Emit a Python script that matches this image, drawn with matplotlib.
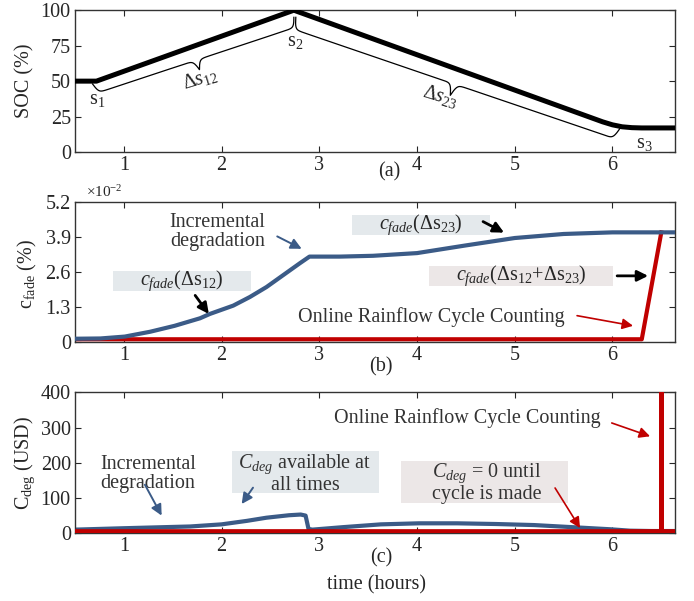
"""Three stacked panels: SOC profile, capacity fade and degradation cost."""

import matplotlib

matplotlib.use("Agg")
import matplotlib.pyplot as plt
import numpy as np
from matplotlib.patches import Rectangle

plt.rcParams["font.family"] = ["Liberation Serif", "DejaVu Serif"]
plt.rcParams["mathtext.fontset"] = "custom"
plt.rcParams["mathtext.rm"] = "Liberation Serif"
plt.rcParams["mathtext.it"] = "Liberation Serif:italic"
plt.rcParams["mathtext.bf"] = "Liberation Serif:bold"

# ---- data ----
soc_time = [0.5, 0.72, 2.74, 5.9, 6.0, 6.1, 6.2, 6.3, 6.64]
soc_value = [50, 50, 100, 21.3, 19.2, 17.8, 17.2, 17, 17]

fade_time = [0.5, 0.76, 1.01, 1.27, 1.52, 1.78, 1.88, 2.12, 2.29, 2.46, 2.63, 2.8, 2.9,
             3.0, 3.21, 3.55, 4.0, 4.49, 5.0, 5.5, 6.0, 6.64]
fade_incremental = [0.12, 0.13, 0.2, 0.38, 0.6, 0.88, 1.04, 1.35, 1.67, 2.04, 2.48, 2.92, 3.17,
                    3.17, 3.17, 3.2, 3.3, 3.58, 3.86, 4.01, 4.07, 4.07]
fade_rainflow_time = [0.5, 6.3, 6.5]
fade_rainflow = [0.1, 0.1, 4.07]

cost_time = [0.5, 1.0, 1.68, 2.0, 2.26, 2.46, 2.69, 2.81, 2.86, 2.875, 2.89, 2.93, 3.24, 3.63,
             4.02, 4.41, 4.81, 5.2, 5.59, 5.98, 6.18, 6.4, 6.64]
cost_incremental = [9, 13, 18, 24, 34, 43, 50, 52, 49, 30, 11, 9, 16, 24,
                    27, 27, 25, 22, 16, 10, 6, 5, 5]
cost_rainflow_time = [0.5, 6.5, 6.5, 6.5, 6.64]
cost_rainflow = [4, 4, 900, 4, 4]

x_ticks = [1, 2, 3, 4, 5, 6]
soc_ticks = [0, 25, 50, 75, 100]
fade_ticks = [0, 1.3, 2.6, 3.9, 5.2]
fade_tick_labels = ["0", "1.3", "2.6", "3.9", "5.2"]
cost_ticks = [0, 100, 200, 300, 400]

BLUE = "#3B5B87"
RED = "#C00000"
INK = "#262626"
NOTE = "#333333"
BOX_BLUE = "#E4E9EC"
BOX_PINK = "#ECE7E7"
FS = 14.5


def style(ax, yticks, ylim, ylabels=None):
    ax.set_xlim(0.5, 6.64)
    ax.set_ylim(*ylim)
    ax.set_xticks(x_ticks)
    ax.set_yticks(yticks)
    if ylabels is not None:
        ax.set_yticklabels(ylabels)
    ax.tick_params(direction="in", top=True, right=True, length=4, width=0.8,
                   labelsize=FS, colors=INK, pad=3)
    for spine in ax.spines.values():
        spine.set_color("#333333")
        spine.set_linewidth(1.0)


def curly_brace(ax, start, end, depth, beta=0.6, **kw):
    """Draw a curly brace between two data points, bulging by depth pixels."""
    trans = ax.transData
    p0 = trans.transform(start)
    p1 = trans.transform(end)
    vec = p1 - p0
    length = np.hypot(*vec)
    u = vec / length
    n = np.array([u[1], -u[0]])
    s = np.linspace(0, length / 2, 200)
    half = 1 / (1 + np.exp(-beta * (s - s[0]))) + 1 / (1 + np.exp(-beta * (s - s[-1]))) - 0.5
    prof = np.concatenate([half, half[-2::-1]])
    s_full = np.concatenate([s, length - s[-2::-1]])
    pts = p0 + np.outer(s_full, u) + np.outer(prof * depth, n)
    data = trans.inverted().transform(pts)
    ax.plot(data[:, 0], data[:, 1], color="black", lw=0.9, **kw)


def arrow(ax, tail, head, color, lw=1.6, scale=16):
    ax.annotate("", xy=head, xytext=tail,
                arrowprops=dict(arrowstyle="-|>", color=color, lw=lw, mutation_scale=scale,
                                shrinkA=0, shrinkB=0))


fig = plt.figure(figsize=(6.94, 6.01), dpi=100)
ax_a = fig.add_axes([0.108, 0.747, 0.8646, 0.236])
ax_b = fig.add_axes([0.108, 0.431, 0.8646, 0.233])
ax_c = fig.add_axes([0.108, 0.1135, 0.8646, 0.2335])

# ---- (a) SOC ----
style(ax_a, soc_ticks, (0, 100))
ax_a.plot(soc_time, soc_value, color="black", lw=3.6, solid_capstyle="round", zorder=3)
curly_brace(ax_a, (0.68, 48), (2.74, 95), 20)
curly_brace(ax_a, (2.76, 95), (6.08, 17), 24)
ax_a.text(0.725, 37, r"$\mathrm{s}_1$", fontsize=FS, ha="center", va="center", color=INK)
ax_a.text(2.75, 78, r"$\mathrm{s}_2$", fontsize=FS, ha="center", va="center", color=INK)
ax_a.text(6.33, 6, r"$\mathrm{s}_3$", fontsize=FS, ha="center", va="center", color=INK)
ax_a.text(1.78, 52, r"$\mathit{\Delta s}_{12}$", fontsize=FS, ha="center", va="center",
          rotation=17, color=INK)
ax_a.text(4.24, 39, r"$\mathit{\Delta s}_{23}$", fontsize=FS, ha="center", va="center",
          rotation=-17, color=INK)

# ---- (b) capacity fade ----
style(ax_b, fade_ticks, (0, 5.2), fade_tick_labels)
ax_b.plot(fade_rainflow_time, fade_rainflow, color=RED, lw=3.0, zorder=2)
ax_b.plot(fade_time, fade_incremental, color=BLUE, lw=3.0, zorder=3)
ax_b.text(1.96, 4.1, "Incremental\ndegradation", fontsize=FS, ha="center", va="center",
          linespacing=1.0, color=NOTE)
arrow(ax_b, (2.57, 3.92), (2.82, 3.46), BLUE, lw=1.4)
ax_b.add_patch(Rectangle((0.889, 1.88), 1.41, 0.75, color=BOX_BLUE, lw=0, zorder=1))
ax_b.text(1.595, 2.26, r"$c_{fade}(\Delta\mathrm{s}_{12})$", fontsize=FS, ha="center",
          va="center", color=INK, zorder=4)
arrow(ax_b, (1.73, 1.73), (1.87, 1.04), "black", lw=2.0)
ax_b.add_patch(Rectangle((3.335, 3.96), 1.413, 0.75, color=BOX_BLUE, lw=0, zorder=1))
ax_b.text(4.04, 4.36, r"$c_{fade}(\Delta\mathrm{s}_{23})$", fontsize=FS, ha="center",
          va="center", color=INK, zorder=4)
arrow(ax_b, (4.676, 4.47), (4.891, 4.06), "black", lw=2.0)
ax_b.add_patch(Rectangle((4.123, 2.08), 1.884, 0.75, color=BOX_PINK, lw=0, zorder=1))
ax_b.text(5.07, 2.455, r"$c_{fade}(\Delta\mathrm{s}_{12}$+$\Delta\mathrm{s}_{23})$", fontsize=FS,
          ha="center", va="center", color=INK, zorder=4)
arrow(ax_b, (6.048, 2.455), (6.365, 2.455), "black", lw=2.0)
ax_b.text(4.144, 0.91, "Online Rainflow Cycle Counting", fontsize=FS, ha="center",
          va="center", color=NOTE)
arrow(ax_b, (5.638, 0.977), (6.211, 0.60), RED, lw=1.2)

# ---- (c) degradation cost ----
style(ax_c, cost_ticks, (0, 400))
ax_c.plot(cost_time, cost_incremental, color=BLUE, lw=3.0, zorder=2)
ax_c.plot(cost_rainflow_time, cost_rainflow, color=RED, lw=3.4, zorder=3)
ax_c.text(1.247, 168.6, "Incremental\ndegradation", fontsize=FS, ha="center", va="center",
          linespacing=1.0, color=NOTE)
arrow(ax_c, (1.216, 137), (1.387, 49), BLUE, lw=1.4)
ax_c.add_patch(Rectangle((2.107, 113), 1.504, 119, color=BOX_BLUE, lw=0, zorder=1))
ax_c.text(2.854, 168.6, "$C_{deg}$ available at\nall times", fontsize=FS, ha="center",
          va="center", linespacing=1.0, color=NOTE, zorder=4)
arrow(ax_c, (2.322, 128.6), (2.206, 82), BLUE, lw=1.4)
ax_c.text(4.517, 327.7, "Online Rainflow Cycle Counting", fontsize=FS, ha="center",
          va="center", color=NOTE)
arrow(ax_c, (5.993, 313), (6.385, 275), RED, lw=1.2)
ax_c.add_patch(Rectangle((3.837, 85.7), 1.709, 120, color=BOX_PINK, lw=0, zorder=1))
ax_c.text(4.714, 144, "$C_{deg}$ = 0 until\ncycle is made", fontsize=FS, ha="center",
          va="center", linespacing=1.0, color=NOTE, zorder=4)
arrow(ax_c, (5.413, 127.7), (5.669, 13.4), RED, lw=1.2)

# ---- labels ----
fig.text(0.036, 0.865, "SOC (%)", rotation=90, fontsize=FS, ha="center", va="center", color=INK)
fig.text(0.04, 0.545, r"$\mathrm{c_{fade}}$ (%)", rotation=90, fontsize=FS, ha="center",
         va="center", color=INK)
fig.text(0.036, 0.23, r"$\mathrm{C_{deg}}$ (USD)", rotation=90, fontsize=FS, ha="center",
         va="center", color=INK)
fig.text(0.151, 0.68, r"$\times10^{-2}$", fontsize=11, ha="center", va="center", color=INK)
fig.text(0.561, 0.714, "(a)", fontsize=FS, ha="center", va="center", color=INK)
fig.text(0.549, 0.39, "(b)", fontsize=FS, ha="center", va="center", color=INK)
fig.text(0.549, 0.0716, "(c)", fontsize=FS, ha="center", va="center", color=INK)
fig.text(0.542, 0.0266, "time (hours)", fontsize=FS, ha="center", va="center", color=INK)

fig.savefig("out.png", dpi=100)
plt.close(fig)
